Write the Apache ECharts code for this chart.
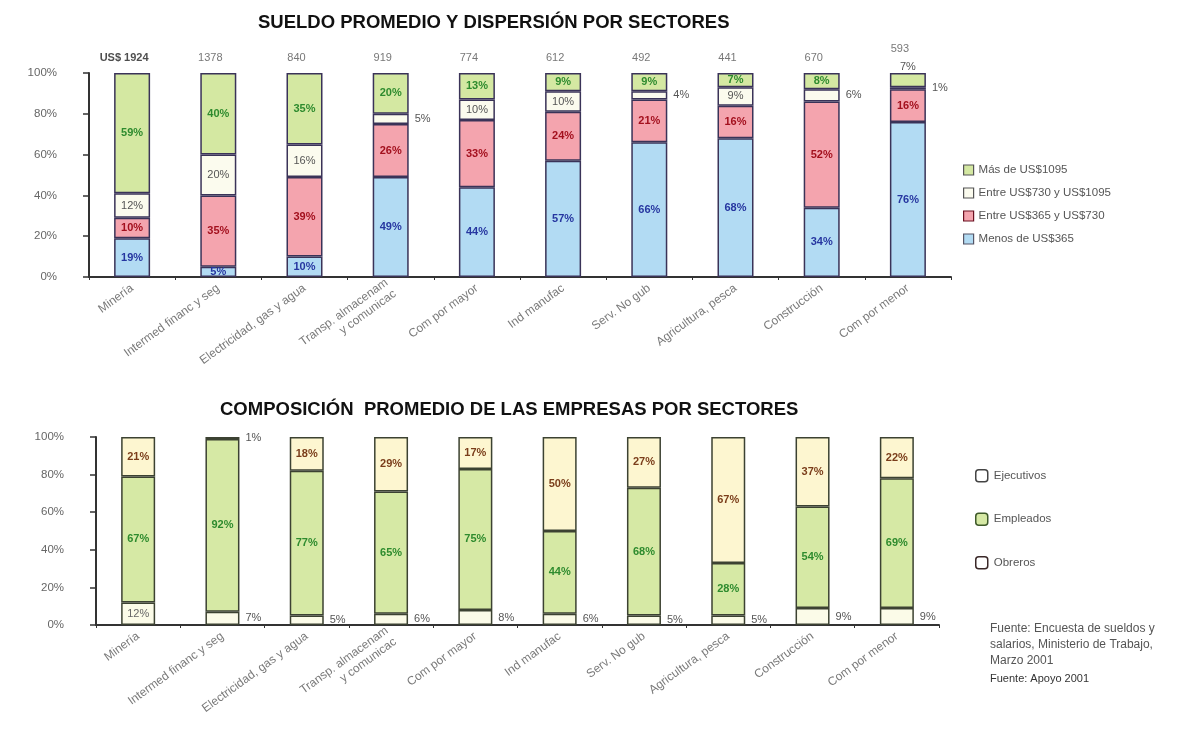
<!DOCTYPE html>
<html>
<head>
<meta charset="utf-8">
<script src="https://cdn.jsdelivr.net/npm/echarts@6/dist/echarts.min.js"></script>
<style>
  html, body { margin: 0; padding: 0; background: #fff; }
  #chart { width: 1189px; height: 742px; }
</style>
</head>
<body>
<div id="chart"></div>
<script>
// Sectores económicos (mismo orden en ambos gráficos)
const sectors = [
  'Minería', 'Intermed financ y seg', 'Electricidad, gas y agua',
  'Transp. almacenam\ny comunicac', 'Com por mayor', 'Ind manufac',
  'Serv. No gub', 'Agricultura, pesca', 'Construcción', 'Com por menor'
];

// Sueldo promedio por sector (US$)
const sueldoPromedio = [1924, 1378, 840, 919, 774, 612, 492, 441, 670, 593];

// Dispersión salarial (% de trabajadores por tramo)
const menos365      = [19, 5, 10, 49, 44, 57, 66, 68, 34, 76];
const entre365y730  = [10, 35, 39, 26, 33, 24, 21, 16, 52, 16];
const entre730y1095 = [12, 20, 16, 5, 10, 10, 4, 9, 6, 1];
const mas1095       = [59, 40, 35, 20, 13, 9, 9, 7, 8, 7];

// Composición de las empresas (% del personal)
const ejecutivos = [12, 7, 5, 6, 8, 6, 5, 5, 9, 9];
const empleados  = [67, 92, 77, 65, 75, 44, 68, 28, 54, 69];
const obreros    = [21, 1, 18, 29, 17, 50, 27, 67, 37, 22];

const yTicks = ['0%', '20%', '40%', '60%', '80%', '100%'];

const FONT = 'Liberation Sans, Arial, sans-serif';
const chart = echarts.init(document.getElementById('chart'));

const outsideLabel = { position: 'right', distance: 6, color: '#555', fontWeight: 'normal' };

function stackBar(name, stack, axis, data, color, border, labelColor, barWidth, labelFor) {
  return {
    name, type: 'bar', stack, xAxisIndex: axis, yAxisIndex: axis, barWidth,
    silent: true,
    data: data.map((v, i) => {
      const lb = labelFor ? labelFor(v, i) : null;
      return lb ? { value: v, label: lb } : v;
    }),
    itemStyle: { color, borderColor: border, borderWidth: 1.5 },
    label: {
      show: true, position: 'inside', color: labelColor, fontSize: 11,
      fontWeight: 'bold', fontFamily: FONT, formatter: '{c}%'
    }
  };
}

const topBorder = '#3a3358';
const botBorder = '#3c4232';

const series = [
  stackBar('Menos de US$365', 'sueldo', 0, menos365, '#b2dbf3', topBorder, '#2636a0', 36),
  stackBar('Entre US$365 y US$730', 'sueldo', 0, entre365y730, '#f4a4ae', topBorder, '#a3101e', 36),
  stackBar('Entre US$730 y US$1095', 'sueldo', 0, entre730y1095, '#fbfbee', topBorder, '#555', 36,
    v => v <= 6 ? outsideLabel : { fontWeight: 'normal' }),
  stackBar('Más de US$1095', 'sueldo', 0, mas1095, '#d4e8a2', topBorder, '#2e8b2e', 36,
    (v, i) => sectors[i] === 'Com por menor' ? { position: 'top', distance: 1, color: '#555', fontWeight: 'normal' } : null),
  {
    // sueldo promedio sobre cada barra
    type: 'scatter', xAxisIndex: 0, yAxisIndex: 0, silent: true,
    symbolSize: 1, itemStyle: { color: 'rgba(0,0,0,0)' },
    encode: { x: 0, y: 1 },
    data: sueldoPromedio.map((v, i) => ({
      value: [i, 100, v],
      label: sectors[i] === 'Com por menor' ? { distance: 18 } : undefined
    })),
    label: {
      show: true, position: 'top', distance: 9, offset: [-8, 0],
      fontSize: 11, fontFamily: FONT, color: '#555',
      formatter: p => p.dataIndex === 0 ? '{b|US$ ' + p.value[2] + '}' : String(p.value[2]),
      rich: { b: { fontWeight: 'bold', color: '#222', fontSize: 11, fontFamily: FONT } }
    }
  },
  stackBar('Ejecutivos', 'comp', 1, ejecutivos, '#fbfbe8', botBorder, '#666', 34,
    v => v < 10 ? outsideLabel : { fontWeight: 'normal' }),
  stackBar('Empleados', 'comp', 1, empleados, '#d6e9a5', botBorder, '#2e8b2e', 34),
  stackBar('Obreros', 'comp', 1, obreros, '#fdf6d0', botBorder, '#7a3d1a', 34,
    v => v < 5 ? outsideLabel : null)
];

function yAxis(gridIndex) {
  return {
    type: 'value', gridIndex, min: 0, max: 100, interval: 20,
    axisLine: { show: true, lineStyle: { color: '#333', width: 2 } },
    axisTick: { show: true, length: 6, lineStyle: { color: '#333', width: 1.5 } },
    splitLine: { show: false },
    axisLabel: {
      margin: 32, fontSize: 11.5, color: '#666', fontFamily: FONT,
      formatter: v => yTicks[v / 20]
    }
  };
}

function xAxis(gridIndex) {
  return {
    type: 'category', gridIndex, data: sectors,
    axisLine: { show: true, lineStyle: { color: '#333', width: 2 } },
    axisTick: { show: true, length: 3, lineStyle: { color: '#333' } },
    axisLabel: {
      rotate: 36, margin: 10, fontSize: 12, color: '#7a7a7a', fontFamily: FONT,
      interval: 0, lineHeight: 14
    }
  };
}

chart.setOption({
  animation: false,
  textStyle: { fontFamily: FONT },
  title: [
    { text: 'SUELDO PROMEDIO Y DISPERSIÓN POR SECTORES', left: 253, top: 8,
      textStyle: { fontSize: 18.5, fontWeight: 'bold', color: '#111', fontFamily: FONT } },
    { text: 'COMPOSICIÓN  PROMEDIO DE LAS EMPRESAS POR SECTORES', left: 215, top: 395,
      textStyle: { fontSize: 18.5, fontWeight: 'bold', color: '#111', fontFamily: FONT } },
    { text: 'Fuente: Encuesta de sueldos y\nsalarios, Ministerio de Trabajo,\nMarzo 2001', left: 985, top: 616,
      textStyle: { fontSize: 12, fontWeight: 'normal', color: '#555', lineHeight: 16, fontFamily: FONT } },
    { text: 'Fuente: Apoyo 2001', left: 985, top: 668,
      textStyle: { fontSize: 11, fontWeight: 'normal', color: '#333', fontFamily: FONT } }
  ],
  legend: [
    {
      left: 958, top: 159, orient: 'vertical', itemWidth: 10, itemHeight: 10, itemGap: 11,
      icon: 'rect', selectedMode: false,
      textStyle: { fontSize: 11.5, color: '#555', fontFamily: FONT },
      data: [
        { name: 'Más de US$1095', itemStyle: { borderColor: '#555', borderWidth: 1.2 } },
        { name: 'Entre US$730 y US$1095', itemStyle: { borderColor: '#555', borderWidth: 1.2 } },
        { name: 'Entre US$365 y US$730', itemStyle: { borderColor: '#6a1020', borderWidth: 1.2 } },
        { name: 'Menos de US$365', itemStyle: { borderColor: '#556', borderWidth: 1.2 } }
      ]
    },
    {
      left: 970, top: 464, orient: 'vertical', itemWidth: 12, itemHeight: 12, itemGap: 30,
      icon: 'roundRect', selectedMode: false,
      textStyle: { fontSize: 11.5, color: '#555', fontFamily: FONT, padding: [0, 0, 0, 1] },
      data: [
        { name: 'Ejecutivos', itemStyle: { color: '#ffffff', borderColor: '#444', borderWidth: 1.5 } },
        { name: 'Empleados', itemStyle: { borderColor: '#3f5a2a', borderWidth: 1.5 } },
        { name: 'Obreros', itemStyle: { color: '#ffffff', borderColor: '#3a2828', borderWidth: 1.5 } }
      ]
    }
  ],
  grid: [
    { left: 89, top: 73, width: 862, height: 204 },
    { left: 96, top: 437, width: 843, height: 188 }
  ],
  xAxis: [xAxis(0), xAxis(1)],
  yAxis: [yAxis(0), yAxis(1)],
  series
});
</script>
</body>
</html>
